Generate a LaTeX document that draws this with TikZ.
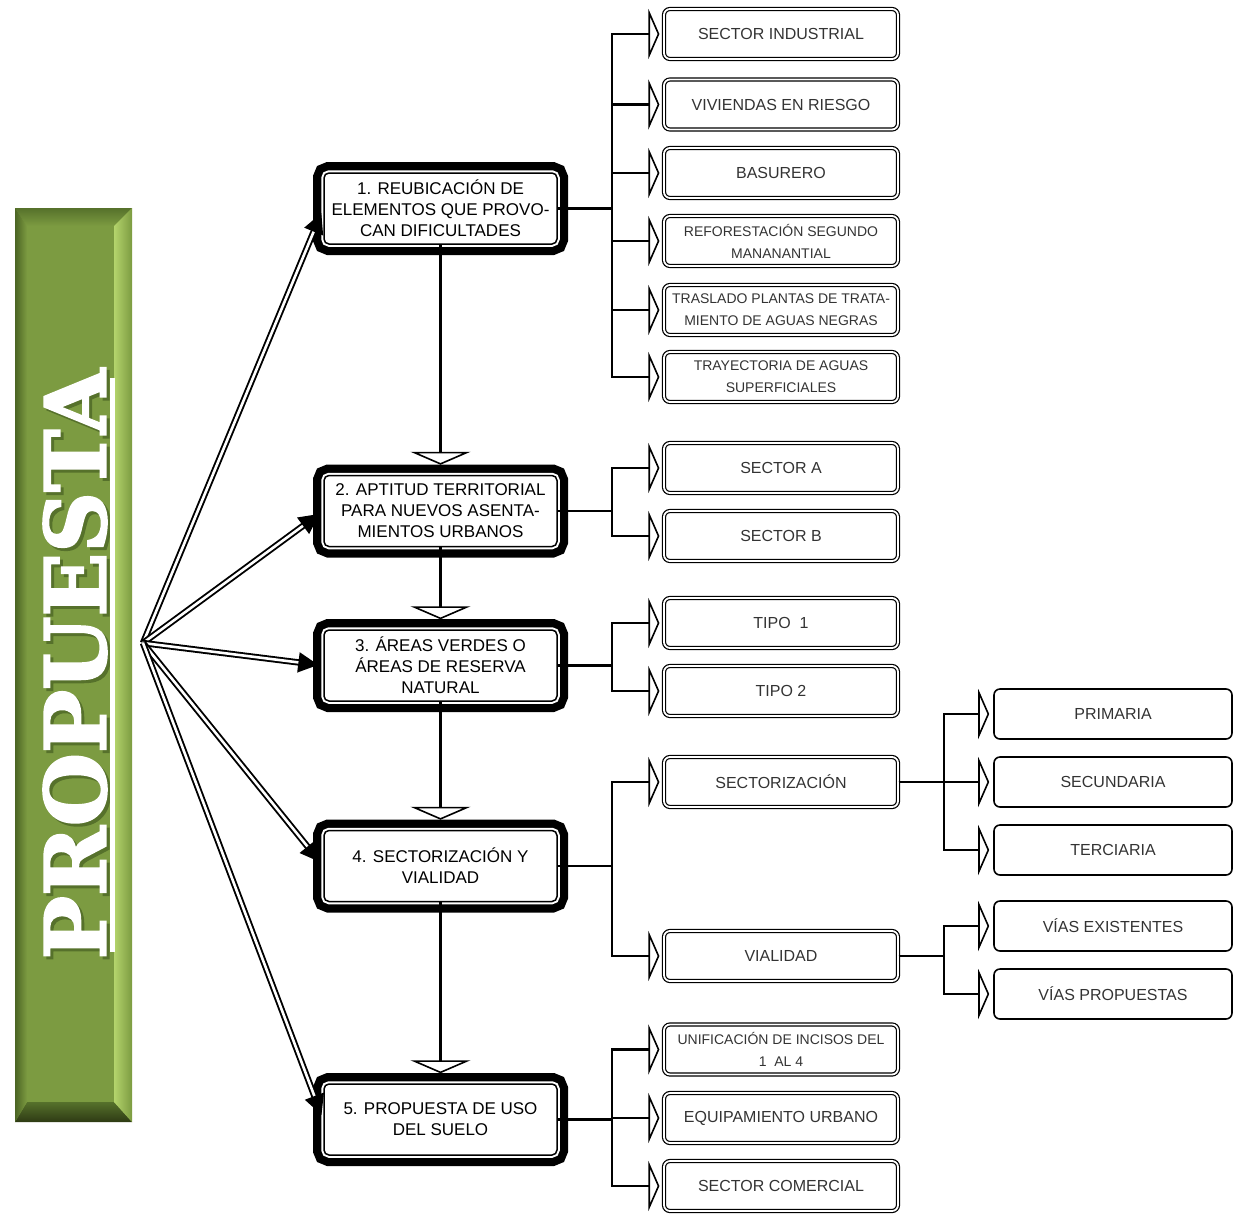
\documentclass[tikz,border=0pt]{standalone}
\usepackage{fontspec}
\setmainfont{Liberation Sans}
\newfontfamily\titlefont{DejaVu Serif}[BoldFeatures={FakeBold=2.5}]
\usetikzlibrary{arrows.meta}
\definecolor{barmain}{HTML}{7C9B41}
\definecolor{barlight}{HTML}{B4D46C}
\definecolor{bardark}{HTML}{4B6424}
\definecolor{bardeep}{HTML}{2E3A14}
\definecolor{barshadow}{HTML}{56712B}
\begin{document}
\begin{tikzpicture}[x=1pt, y=-1pt,
  mainbox/.style={draw, fill=white, line width=1.5pt, rounded corners=5pt, inner sep=0pt,
    minimum width=233pt, minimum height=71pt, align=center,
    font=\fontsize{17}{21}\selectfont,
    preaction={draw, line width=22pt},
    preaction={draw=white, line width=5.5pt}},
  leafbox/.style={draw, line width=1.2pt, double=white, double distance=1.8pt,
    rounded corners=6pt, inner sep=0pt, minimum width=234pt, minimum height=50pt,
    align=center, text=black!80, font=\fontsize{16}{22}\selectfont},
  leafsmall/.style={leafbox, font=\fontsize{14}{22}\selectfont},
  subbox/.style={draw, line width=1.6pt, rounded corners=6pt, inner sep=0pt,
    minimum width=238pt, minimum height=50pt, text=black!80,
    font=\fontsize{16}{22}\selectfont},
  branch/.style={line width=2.6pt, shorten >=4pt,
    -{Triangle[fill=white, length=11pt, width=50pt, line width=1.6pt]}},
  downarrow/.style={line width=2.8pt, shorten >=10pt,
    -{Triangle[fill=white, length=13pt, width=60pt, line width=1.6pt]}},
  fanarrow/.style={line width=1.9pt, double=white, double distance=2.6pt, shorten >=5pt,
    -{Triangle[length=20pt, width=20pt]}}]
\useasboundingbox (0,0) rectangle (1234,1213);

% green banner
\fill[barmain] (15,208) rectangle (132,1122);
\shade[top color=barshadow, bottom color=barmain] (15,208) -- (132,208) -- (114,226) -- (27,226) -- cycle;
\shade[top color=barshadow, bottom color=bardeep] (15,1122) -- (132,1122) -- (114,1102) -- (27,1102) -- cycle;
\shade[left color=bardark, right color=barmain] (15,208) -- (27,226) -- (27,1102) -- (15,1122) -- cycle;
\shade[left color=barlight, right color=barmain] (132,208) -- (114,226) -- (114,1102) -- (132,1122) -- cycle;
\node[text=barshadow, rotate=90, inner sep=0pt, font=\titlefont\bfseries\fontsize{84}{84}\selectfont] (titleshadow) at (78,667) {PROPUESTA};
\node[text=white, rotate=90, inner sep=0pt, font=\titlefont\bfseries\fontsize{84}{84}\selectfont] (title) at (75,664) {PROPUESTA};
\draw[white, line width=5pt] (112,378) -- (112,952);

% main steps
\node[mainbox] (m1) at (440.5,208.5) {1. REUBICACIÓN DE\\ELEMENTOS QUE PROVO-\\CAN DIFICULTADES};
\node[mainbox] (m2) at (440.5,511) {2. APTITUD TERRITORIAL\\PARA NUEVOS ASENTA-\\MIENTOS URBANOS};
\node[mainbox] (m3) at (440.5,665.5) {3. ÁREAS VERDES O\\ÁREAS DE RESERVA\\NATURAL};
\node[mainbox] (m4) at (440.5,866) {4. SECTORIZACIÓN Y\\VIALIDAD};
\node[mainbox] (m5) at (440.5,1119.5) {5. PROPUESTA DE USO\\DEL SUELO};

\coordinate (fan) at (143,643);
\coordinate (spine) at (612,0);
\coordinate (subspine) at (944,0);

\draw[fanarrow] (fan) -- (m1.west);
\draw[fanarrow] (fan) -- (m2.west);
\draw[fanarrow] (fan) -- (m3.west);
\draw[fanarrow] (fan) -- (m4.west);
\draw[fanarrow] (fan) -- (m5.west);

\draw[downarrow] (m1.south) -- (m2.north);
\draw[downarrow] (m2.south) -- (m3.north);
\draw[downarrow] (m3.south) -- (m4.north);
\draw[downarrow] (m4.south) -- (m5.north);

% leaves of step 1
\node[leafbox] (l11) at (781,34) {SECTOR INDUSTRIAL};
\node[leafbox] (l12) at (781,104.5) {VIVIENDAS EN RIESGO};
\node[leafbox] (l13) at (781,173) {BASURERO};
\node[leafsmall] (l14) at (781,241) {REFORESTACIÓN SEGUNDO\\MANANANTIAL};
\node[leafsmall] (l15) at (781,310) {TRASLADO PLANTAS DE TRATA-\\MIENTO DE AGUAS NEGRAS};
\node[leafsmall] (l16) at (781,377) {TRAYECTORIA DE AGUAS\\SUPERFICIALES};
\foreach \leaf in {l11,l12,l13,l14,l15,l16}
  \draw[branch] (m1.east) -- (m1.east -| spine) |- (\leaf.west);

% leaves of step 2
\node[leafbox] (l21) at (781,468) {SECTOR A};
\node[leafbox] (l22) at (781,536) {SECTOR B};
\foreach \leaf in {l21,l22}
  \draw[branch] (m2.east) -- (m2.east -| spine) |- (\leaf.west);

% leaves of step 3
\node[leafbox] (l31) at (781,623) {TIPO\ \ 1};
\node[leafbox] (l32) at (781,691) {TIPO 2};
\foreach \leaf in {l31,l32}
  \draw[branch] (m3.east) -- (m3.east -| spine) |- (\leaf.west);

% leaves of step 4
\node[leafbox] (l41) at (781,782) {SECTORIZACIÓN};
\node[leafbox] (l42) at (781,956) {VIALIDAD};
\foreach \leaf in {l41,l42}
  \draw[branch] (m4.east) -- (m4.east -| spine) |- (\leaf.west);

\node[subbox] (s1) at (1113,714) {PRIMARIA};
\node[subbox] (s2) at (1113,782) {SECUNDARIA};
\node[subbox] (s3) at (1113,850) {TERCIARIA};
\foreach \leaf in {s1,s2,s3}
  \draw[branch] (l41.east) -- (l41.east -| subspine) |- (\leaf.west);
\node[subbox] (s4) at (1113,926) {VÍAS EXISTENTES};
\node[subbox] (s5) at (1113,994) {VÍAS PROPUESTAS};
\foreach \leaf in {s4,s5}
  \draw[branch] (l42.east) -- (l42.east -| subspine) |- (\leaf.west);

% leaves of step 5
\node[leafsmall] (l51) at (781,1049.5) {UNIFICACIÓN DE INCISOS DEL\\1\ \ AL 4};
\node[leafbox] (l52) at (781,1118) {EQUIPAMIENTO URBANO};
\node[leafbox] (l53) at (781,1186) {SECTOR COMERCIAL};
\foreach \leaf in {l51,l52,l53}
  \draw[branch] (m5.east) -- (m5.east -| spine) |- (\leaf.west);
\end{tikzpicture}
\end{document}
